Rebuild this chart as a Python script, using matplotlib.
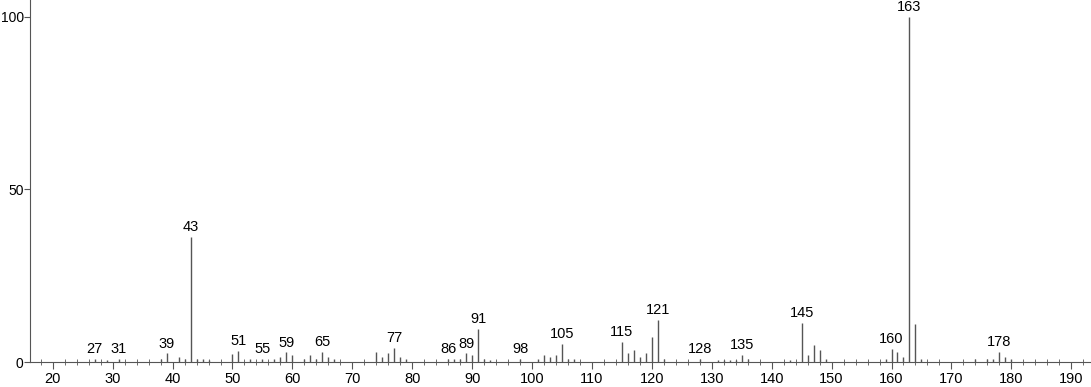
import matplotlib
matplotlib.use("Agg")
import matplotlib.pyplot as plt
from matplotlib.ticker import MultipleLocator

plt.rcParams['font.family'] = ['Liberation Sans', 'DejaVu Sans']

mz = [27, 29, 31, 38, 39, 41, 42, 43, 44, 45, 46,
      50, 51, 53, 55, 57, 58, 59, 60, 62, 63, 64, 65, 66, 67,
      74, 75, 76, 77, 78, 79,
      86, 87, 88, 89, 90, 91, 92, 93,
      98, 101, 102, 103, 104, 105, 106, 107,
      115, 116, 117, 118, 119, 120, 121, 122,
      128, 131, 132, 133, 134, 135, 136,
      143, 145, 146, 147, 148, 149,
      159, 160, 161, 162, 163, 164, 165,
      174, 176, 177, 178, 179, 180]
intensity = [1.0, 0.5, 1.0, 1.0, 2.5, 1.5, 1.0, 36.2, 1.0, 0.8, 0.5,
             2.2, 3.3, 1.0, 1.0, 0.8, 1.5, 2.8, 2.0, 1.0, 2.0, 1.0, 3.0, 1.5, 0.8,
             3.0, 1.5, 2.5, 4.2, 1.5, 0.8,
             1.0, 1.0, 1.0, 2.5, 2.0, 9.5, 1.0, 0.5,
             1.0, 1.0, 2.0, 1.5, 2.0, 5.3, 1.0, 0.8,
             5.8, 2.5, 3.5, 1.5, 2.5, 7.2, 12.3, 1.0,
             1.0, 0.5, 0.7, 0.7, 0.7, 2.0, 0.8,
             0.5, 11.4, 2.0, 5.0, 3.5, 1.0,
             0.8, 3.9, 3.0, 1.5, 100.0, 11.1, 1.0,
             0.8, 0.8, 0.8, 3.0, 1.5, 1.0]
labeled = [27, 31, 39, 43, 51, 55, 59, 65, 77, 86, 89, 91, 98, 105,
           115, 121, 128, 135, 145, 160, 163, 178]

fig = plt.figure(figsize=(10.91, 3.87), dpi=100)
ax = fig.add_axes([30 / 1091, 25 / 387, 1 - 30 / 1091, 1 - 25 / 387])

ax.vlines(mz, 0, intensity, color='#555555', linewidth=1.0)
for m, v in zip(mz, intensity):
    if m in labeled:
        ax.text(m, v + 0.8, str(m), ha='center', va='bottom', fontsize=10.5, color='black')

ax.set_xlim(16.2, 193.3)
ax.set_ylim(0, 104.9)
ax.spines['top'].set_visible(False)
ax.spines['right'].set_visible(False)
ax.spines['left'].set_color('#555555')
ax.spines['bottom'].set_color('#555555')
ax.xaxis.set_minor_locator(MultipleLocator(2))
ax.set_xticks(range(20, 191, 10))
ax.set_yticks([0, 50, 100])
ax.tick_params(axis='x', which='major', direction='out', length=5, color='#555555', labelsize=10.5, pad=2)
ax.tick_params(axis='x', which='minor', direction='inout', length=4, color='#555555')
ax.tick_params(axis='y', direction='out', length=4, color='#555555', labelsize=10, pad=0.5)

fig.savefig('out.png', dpi=100)
